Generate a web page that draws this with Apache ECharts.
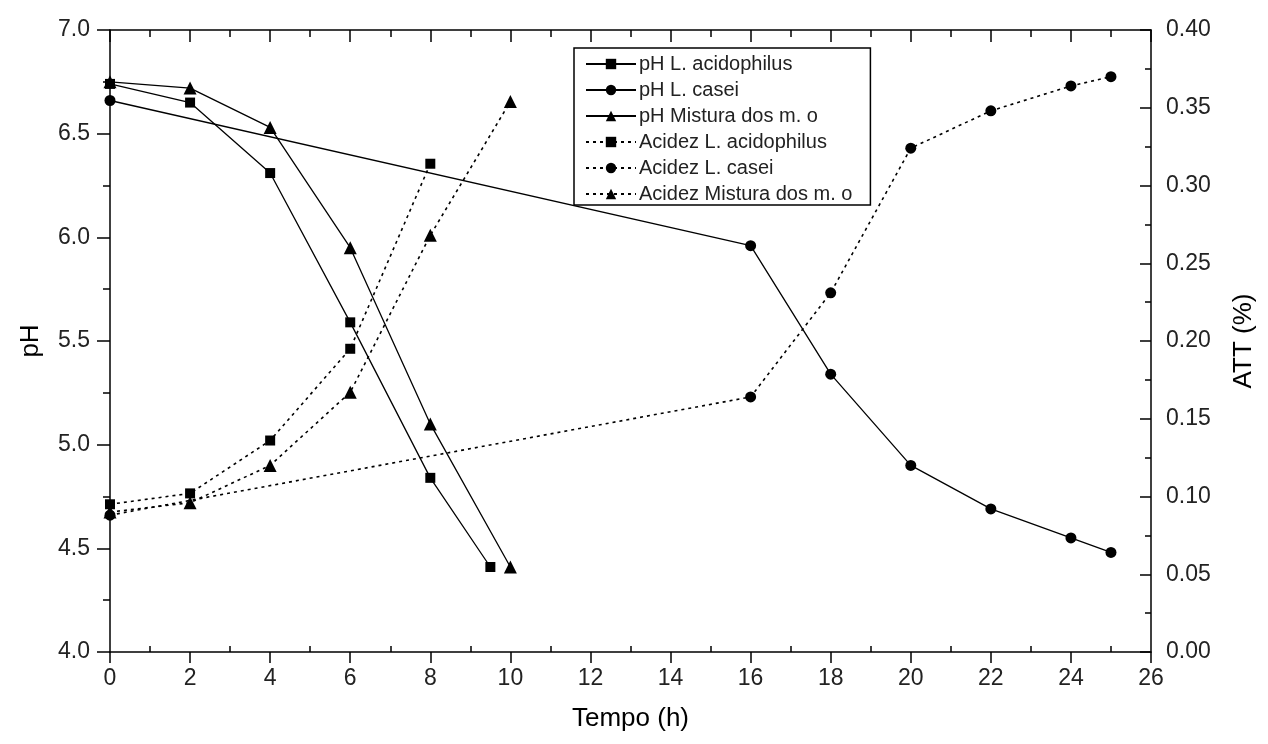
<!DOCTYPE html>
<html>
<head>
<meta charset="utf-8">
<script src="https://cdn.jsdelivr.net/npm/echarts@6/dist/echarts.min.js"></script>
<style>
  html, body { margin: 0; padding: 0; background: #ffffff; }
  #chart { width: 1268px; height: 744px; }
</style>
</head>
<body>
<div id="chart"></div>
<script>
// Time points (h)
const timeAcidophilus = [0, 2, 4, 6, 8, 9.5];
const timeCasei = [0, 16, 18, 20, 22, 24, 25];
const timeMistura = [0, 2, 4, 6, 8, 10];
const timeAcidezAcidophilus = [0, 2, 4, 6, 8];

// pH values
const phAcidophilus = [6.74, 6.65, 6.31, 5.59, 4.84, 4.41];
const phCasei = [6.66, 5.96, 5.34, 4.90, 4.69, 4.55, 4.48];
const phMistura = [6.75, 6.72, 6.53, 5.95, 5.10, 4.41];

// Titratable acidity (%)
const acidezAcidophilus = [0.095, 0.102, 0.136, 0.195, 0.314];
const acidezCasei = [0.088, 0.164, 0.231, 0.324, 0.348, 0.364, 0.370];
const acidezMistura = [0.090, 0.096, 0.120, 0.167, 0.268, 0.354];

const pairs = (xs, ys) => xs.map((x, i) => [x, ys[i]]);

const fontFamily = '"Liberation Sans", Arial, sans-serif';
const black = '#000000';
const textColor = '#222222';

function makeSeries(name, xs, ys, symbol, size, yIndex, dotted) {
  return {
    name: name,
    type: 'line',
    xAxisIndex: 0,
    yAxisIndex: yIndex,
    data: pairs(xs, ys),
    symbol: symbol,
    symbolSize: size,
    showAllSymbol: true,
    clip: false,
    itemStyle: { color: black },
    lineStyle: { color: black, width: dotted ? 1.6 : 1.3, type: dotted ? [3, 4] : 'solid' },
    emphasis: { disabled: true },
    animation: false
  };
}

const axisLineStyle = { color: black, width: 1.5 };

const chart = echarts.init(document.getElementById('chart'), null, { renderer: 'canvas' });

const option = {
  backgroundColor: '#ffffff',
  animation: false,
  grid: { left: 110, right: 117, top: 30, bottom: 92, containLabel: false },
  legend: {
    orient: 'vertical',
    left: 574,
    top: 48,
    padding: [6, 18, 1, 11],
    itemGap: 6,
    itemWidth: 50,
    itemHeight: 13,
    borderColor: black,
    borderWidth: 1.5,
    backgroundColor: '#ffffff',
    textStyle: { fontFamily: fontFamily, fontSize: 20, color: textColor, padding: [0, 0, 0, -2] },
    data: [
      'pH L. acidophilus', 'pH L. casei', 'pH Mistura dos m. o',
      'Acidez L. acidophilus', 'Acidez L. casei', 'Acidez Mistura dos m. o'
    ]
  },
  xAxis: [
    {
      // bottom axis: labels, major ticks outward
      type: 'value',
      position: 'bottom',
      min: 0, max: 26, interval: 2,
      name: 'Tempo (h)',
      nameLocation: 'middle',
      nameGap: 54,
      nameTextStyle: { fontFamily: fontFamily, fontSize: 26, color: black },
      axisLine: { show: true, onZero: false, lineStyle: axisLineStyle },
      axisTick: { show: true, inside: false, length: 11, lineStyle: axisLineStyle },
      minorTick: { show: false },
      axisLabel: { fontFamily: fontFamily, fontSize: 23, color: textColor, margin: 15 },
      splitLine: { show: false }
    },
    {
      // top frame edge, ticks inward
      type: 'value',
      position: 'top',
      min: 0, max: 26, interval: 2,
      axisLine: { show: true, onZero: false, lineStyle: axisLineStyle },
      axisTick: { show: true, inside: true, length: 12, lineStyle: axisLineStyle },
      minorTick: { show: true, splitNumber: 2, length: 7, lineStyle: axisLineStyle },
      axisLabel: { show: false },
      splitLine: { show: false }
    },
    {
      // bottom minor ticks, pointing inward
      type: 'value',
      position: 'bottom',
      min: 0, max: 26, interval: 2,
      axisLine: { show: false, onZero: false },
      axisTick: { show: false, inside: true },
      minorTick: { show: true, splitNumber: 2, length: 6, lineStyle: axisLineStyle },
      axisLabel: { show: false },
      splitLine: { show: false }
    }
  ],
  yAxis: [
    {
      type: 'value',
      position: 'left',
      min: 4, max: 7, interval: 0.5,
      name: 'pH',
      nameLocation: 'middle',
      nameGap: 66,
      nameRotate: 90,
      nameTextStyle: { fontFamily: fontFamily, fontSize: 26, color: black },
      axisLine: { show: true, onZero: false, lineStyle: axisLineStyle },
      axisTick: { show: true, inside: false, length: 13, lineStyle: axisLineStyle },
      minorTick: { show: true, splitNumber: 2, length: 7, lineStyle: axisLineStyle },
      axisLabel: { fontFamily: fontFamily, fontSize: 23, color: textColor, margin: 20, formatter: v => v.toFixed(1) },
      splitLine: { show: false }
    },
    {
      type: 'value',
      position: 'right',
      min: 0, max: 0.4, interval: 0.05,
      name: 'ATT (%)',
      nameLocation: 'middle',
      nameGap: 80,
      nameRotate: 90,
      nameTextStyle: { fontFamily: fontFamily, fontSize: 26, color: black },
      axisLine: { show: true, onZero: false, lineStyle: axisLineStyle },
      axisTick: { show: true, inside: true, length: 11, lineStyle: axisLineStyle },
      minorTick: { show: true, splitNumber: 2, length: 6, lineStyle: axisLineStyle },
      axisLabel: { fontFamily: fontFamily, fontSize: 23, color: textColor, margin: 15, formatter: v => v.toFixed(2) },
      splitLine: { show: false }
    }
  ],
  series: [
    makeSeries('pH L. acidophilus', timeAcidophilus, phAcidophilus, 'rect', 10, 0, false),
    makeSeries('pH L. casei', timeCasei, phCasei, 'circle', 11, 0, false),
    makeSeries('pH Mistura dos m. o', timeMistura, phMistura, 'triangle', 13, 0, false),
    makeSeries('Acidez L. acidophilus', timeAcidezAcidophilus, acidezAcidophilus, 'rect', 10, 1, true),
    makeSeries('Acidez L. casei', timeCasei, acidezCasei, 'circle', 11, 1, true),
    makeSeries('Acidez Mistura dos m. o', timeMistura, acidezMistura, 'triangle', 13, 1, true)
  ]
};

chart.setOption(option);
</script>
</body>
</html>
